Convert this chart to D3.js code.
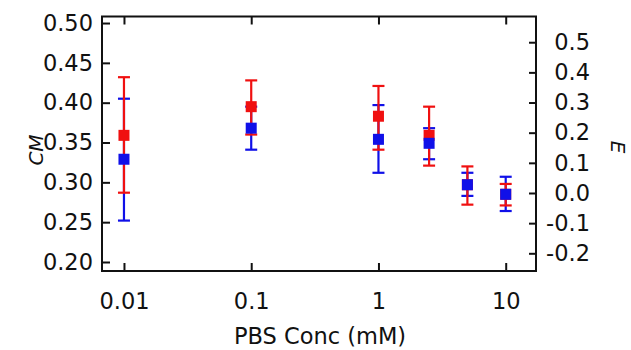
<!DOCTYPE html>
<html>
<head>
<meta charset="utf-8">
<script src="https://cdn.jsdelivr.net/npm/d3@7"></script>
<style>
  body { margin: 0; background: #fff; }
  text { font-family: "DejaVu Sans", sans-serif; fill: #111; }
</style>
</head>
<body>
<div id="chart"></div>
<script>
// PBS concentration (mM)
const conc = [0.01, 0.1, 1, 2.5, 5, 10];

// red series: CM with upper / lower error ends
const redVal = [0.359, 0.395, 0.383, 0.359, 0.297, 0.285];
const redHi  = [0.432, 0.428, 0.421, 0.395, 0.320, 0.298];
const redLo  = [0.287, 0.360, 0.341, 0.321, 0.272, 0.271];

// blue series
const blueVal = [0.329, 0.368, 0.354, 0.349, 0.297, 0.285];
const blueHi  = [0.405, 0.395, 0.397, 0.368, 0.312, 0.307];
const blueLo  = [0.252, 0.341, 0.312, 0.329, 0.283, 0.264];

const xTicks = [0.01, 0.1, 1, 10];
const cmTicks = [0.20, 0.25, 0.30, 0.35, 0.40, 0.45, 0.50];
const eTicks = [-0.2, -0.1, 0.0, 0.1, 0.2, 0.3, 0.4, 0.5];

const W = 631, H = 350;
const box = {left: 102, right: 536, top: 16.5, bottom: 271};
const fs = 22.5;

const svg = d3.select("#chart").append("svg")
    .attr("width", W)
    .attr("height", H);

const x = d3.scaleLog().domain([0.00672, 17.3]).range([box.left, box.right]);
const y = d3.scaleLinear().domain([0.1887, 0.5082]).range([box.bottom, box.top]);
const yE = d3.scaleLinear().domain([-0.2587, 0.5853]).range([box.bottom, box.top]);

// axes with inward ticks
svg.append("g")
    .attr("transform", `translate(0,${box.bottom})`)
    .call(d3.axisBottom(x).tickValues(xTicks).tickSizeInner(-8).tickSizeOuter(0)
        .tickFormat(d3.format("")))
    .call(g => g.selectAll("text").attr("font-size", fs).attr("dy", "0.71em").attr("y", 22));

svg.append("g")
    .attr("transform", `translate(0,${box.top})`)
    .call(d3.axisTop(x).tickValues(xTicks).tickSizeInner(-8).tickSizeOuter(0).tickFormat(""));

svg.append("g")
    .attr("transform", `translate(${box.left},0)`)
    .call(d3.axisLeft(y).tickValues(cmTicks).tickSizeInner(-8).tickSizeOuter(0)
        .tickFormat(d3.format(".2f")))
    .call(g => g.selectAll("text").attr("font-size", fs).attr("x", -9));

// plain hyphen for negatives, like the original
const eFmt = d => d3.format(".1f")(d).replace("\u2212", "-");
svg.append("g")
    .attr("transform", `translate(${box.right},0)`)
    .call(d3.axisRight(yE).tickValues(eTicks).tickSizeInner(-7).tickSizeOuter(0)
        .tickFormat(eFmt))
    .call(g => g.selectAll("text").attr("font-size", fs)
        .attr("text-anchor", "end").attr("x", 54));

svg.selectAll(".domain").remove();
svg.selectAll(".tick line").attr("stroke", "#111").attr("stroke-width", 2);

// frame
svg.append("rect")
    .attr("x", box.left).attr("y", box.top)
    .attr("width", box.right - box.left).attr("height", box.bottom - box.top)
    .attr("fill", "none").attr("stroke", "#111").attr("stroke-width", 2);

// axis titles
svg.append("text")
    .attr("transform", `translate(43,150) rotate(-90)`)
    .attr("text-anchor", "middle")
    .attr("font-size", 20)
    .attr("font-style", "italic")
    .text("CM");

svg.append("text")
    .attr("transform", `translate(611,147) rotate(90)`)
    .attr("text-anchor", "middle")
    .attr("font-size", 20)
    .attr("font-style", "italic")
    .text("E");

svg.append("text")
    .attr("x", 320).attr("y", 344)
    .attr("text-anchor", "middle")
    .attr("font-size", fs)
    .text("PBS Conc (mM)");

// series
const red = "#f01010", blue = "#1010e8";
const series = [
  {color: blue, val: blueVal, hi: blueHi, lo: blueLo},
  {color: red, val: redVal, hi: redHi, lo: redLo}
];

function bars(s) {
  const g = svg.append("g").attr("stroke", s.color).attr("stroke-width", 2.2);
  const d = conc.map((c, i) => ({c, v: s.val[i], hi: s.hi[i], lo: s.lo[i]}));
  g.selectAll(".v").data(d).enter().append("line")
      .attr("x1", d => x(d.c)).attr("x2", d => x(d.c))
      .attr("y1", d => y(d.hi)).attr("y2", d => y(d.lo));
  g.selectAll(".h").data(d).enter().append("line")
      .attr("x1", d => x(d.c) - 6).attr("x2", d => x(d.c) + 6)
      .attr("y1", d => y(d.hi)).attr("y2", d => y(d.hi));
  g.selectAll(".l").data(d).enter().append("line")
      .attr("x1", d => x(d.c) - 6).attr("x2", d => x(d.c) + 6)
      .attr("y1", d => y(d.lo)).attr("y2", d => y(d.lo));
}

function squares(s) {
  svg.append("g").selectAll("rect")
    .data(conc.map((c, i) => ({c, v: s.val[i]})))
    .enter().append("rect")
      .attr("x", d => x(d.c) - 5.5)
      .attr("y", d => y(d.v) - 5.5)
      .attr("width", 11).attr("height", 11)
      .attr("fill", s.color);
}

bars(series[0]);
bars(series[1]);
squares(series[1]);
squares(series[0]);
</script>
</body>
</html>
